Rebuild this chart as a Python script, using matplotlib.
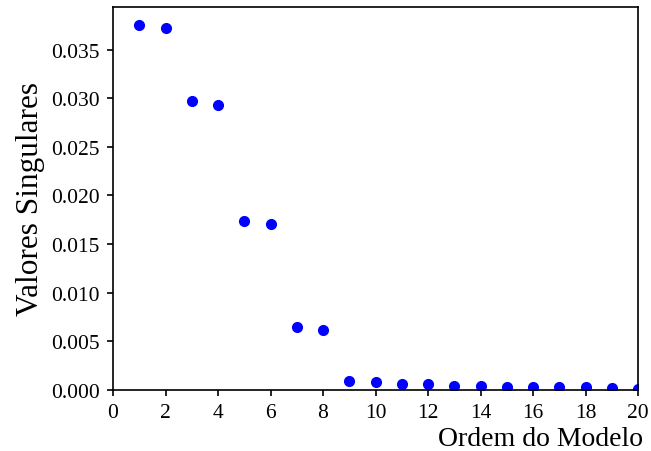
import numpy as np
from matplotlib import pyplot as plt

plt.rcParams['font.family'] = ['Liberation Serif', 'DejaVu Serif']

ordem = np.arange(1, 21)
valores = [0.03750, 0.03726, 0.02969, 0.02935, 0.01739, 0.01705, 0.00644, 0.00616,
           0.00096, 0.00085, 0.00062, 0.00062, 0.00038, 0.00041, 0.00031, 0.00030,
           0.00029, 0.00030, 0.00020, 0.00015]

fig = plt.figure(figsize=(6.51, 4.52), dpi=100)
ax = fig.add_axes([113/651, 1 - 391/452, 525/651, 383/452])

ax.plot(ordem, valores, 'o', color='blue', markersize=7)

ax.set_xlim(0, 20)
ax.set_ylim(0, max(valores) * 1.05)
ax.set_xticks(np.arange(0, 21, 2))
ax.set_yticks(np.arange(0, 0.036, 0.005))
ax.tick_params(labelsize=15.5, length=4.5, width=1.2, pad=5)
for s in ax.spines.values():
    s.set_linewidth(1.2)

ax.set_xlabel("Ordem do Modelo", fontsize=20, x=1.01, ha='right', labelpad=3)
ax.set_ylabel("Valores Singulares", fontsize=22.5, labelpad=4)

fig.savefig("out.png", dpi=100)
